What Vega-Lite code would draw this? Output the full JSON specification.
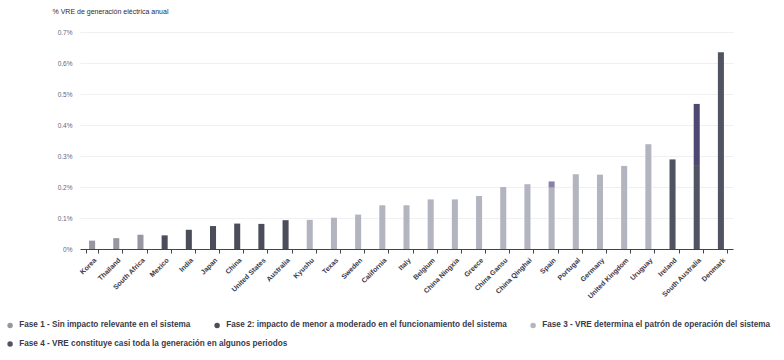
{
  "$schema": "https://vega.github.io/schema/vega-lite/v6.json",
  "width": 653,
  "height": 217,
  "autosize": "none",
  "padding": {"left": 80, "top": 32, "right": 51, "bottom": 111},
  "background": "white",
  "config": {
    "view": {"stroke": null},
    "font": "Liberation Sans",
    "legend": {
      "title": null,
      "orient": "none",
      "direction": "horizontal",
      "columnPadding": 22,
      "symbolType": "circle",
      "symbolSize": 30,
      "symbolStrokeWidth": 0,
      "labelFontSize": 8.2,
      "labelFontWeight": "bold",
      "labelColor": "#3a3a4a",
      "labelLimit": 0,
      "labelOffset": 5
    }
  },
  "datasets": {
    "bars": [
      {"region": "Korea", "phase": "Fase 1 - Sin impacto relevante en el sistema", "value": 0.027},
      {"region": "Thailand", "phase": "Fase 1 - Sin impacto relevante en el sistema", "value": 0.035},
      {"region": "South Africa", "phase": "Fase 1 - Sin impacto relevante en el sistema", "value": 0.046},
      {"region": "Mexico", "phase": "Fase 2: impacto de menor a moderado en el funcionamiento del sistema", "value": 0.044},
      {"region": "India", "phase": "Fase 2: impacto de menor a moderado en el funcionamiento del sistema", "value": 0.062},
      {"region": "Japan", "phase": "Fase 2: impacto de menor a moderado en el funcionamiento del sistema", "value": 0.074},
      {"region": "China", "phase": "Fase 2: impacto de menor a moderado en el funcionamiento del sistema", "value": 0.082},
      {"region": "United States", "phase": "Fase 2: impacto de menor a moderado en el funcionamiento del sistema", "value": 0.081},
      {"region": "Australia", "phase": "Fase 2: impacto de menor a moderado en el funcionamiento del sistema", "value": 0.093},
      {"region": "Kyushu", "phase": "Fase 3 - VRE determina el patrón de operación del sistema", "value": 0.094},
      {"region": "Texas", "phase": "Fase 3 - VRE determina el patrón de operación del sistema", "value": 0.101},
      {"region": "Sweden", "phase": "Fase 3 - VRE determina el patrón de operación del sistema", "value": 0.111},
      {"region": "California", "phase": "Fase 3 - VRE determina el patrón de operación del sistema", "value": 0.141},
      {"region": "Italy", "phase": "Fase 3 - VRE determina el patrón de operación del sistema", "value": 0.141},
      {"region": "Belgium", "phase": "Fase 3 - VRE determina el patrón de operación del sistema", "value": 0.160},
      {"region": "China Ningxia", "phase": "Fase 3 - VRE determina el patrón de operación del sistema", "value": 0.160},
      {"region": "Greece", "phase": "Fase 3 - VRE determina el patrón de operación del sistema", "value": 0.171},
      {"region": "China Gansu", "phase": "Fase 3 - VRE determina el patrón de operación del sistema", "value": 0.200},
      {"region": "China Qinghai", "phase": "Fase 3 - VRE determina el patrón de operación del sistema", "value": 0.209},
      {"region": "Spain", "phase": "Fase 3 - VRE determina el patrón de operación del sistema", "value": 0.198},
      {"region": "Portugal", "phase": "Fase 3 - VRE determina el patrón de operación del sistema", "value": 0.241},
      {"region": "Germany", "phase": "Fase 3 - VRE determina el patrón de operación del sistema", "value": 0.240},
      {"region": "United Kingdom", "phase": "Fase 3 - VRE determina el patrón de operación del sistema", "value": 0.268},
      {"region": "Uruguay", "phase": "Fase 3 - VRE determina el patrón de operación del sistema", "value": 0.338},
      {"region": "Ireland", "phase": "Fase 4 - VRE constituye casi toda la generación en algunos periodos", "value": 0.289},
      {"region": "South Australia", "phase": "Fase 4 - VRE constituye casi toda la generación en algunos periodos", "value": 0.268},
      {"region": "Denmark", "phase": "Fase 4 - VRE constituye casi toda la generación en algunos periodos", "value": 0.635}
    ],
    "caps": [
      {"region": "Spain", "value": 0.198, "high": 0.218},
      {"region": "South Australia", "value": 0.268, "high": 0.468}
    ]
  },
  "encoding": {
    "x": {
      "field": "region",
      "type": "nominal",
      "sort": null,
      "scale": {"paddingInner": 0.5, "paddingOuter": 0.25},
      "axis": {
        "title": null,
        "labelAngle": -45,
        "labelFontSize": 7,
        "labelFontWeight": "bold",
        "labelColor": "#3a3a4a",
        "labelPadding": 3,
        "domainColor": "#444",
        "domainWidth": 1,
        "tickColor": "#444",
        "tickSize": 4,
        "tickBand": "extent",
        "labelLimit": 0
      }
    },
    "y": {
      "field": "value",
      "type": "quantitative",
      "scale": {"domain": [0, 0.7], "nice": false},
      "axis": {
        "title": "% VRE de generación eléctrica anual",
        "titleAngle": 0,
        "titleAlign": "left",
        "titleBaseline": "alphabetic",
        "titleX": -28,
        "titleY": -19,
        "titleFontSize": 7,
        "titleFontWeight": "normal",
        "titleColor": "#2a2a3a",
        "values": [0, 0.1, 0.2, 0.3, 0.4, 0.5, 0.6, 0.7],
        "labelOverlap": false,
        "labelFlush": false,
        "labelExpr": "datum.value == 0 ? '0%' : format(datum.value, '.1f') + '%'",
        "labelFontSize": 6.5,
        "labelColor": "#666677",
        "labelPadding": 8,
        "domain": false,
        "ticks": false,
        "grid": true,
        "gridColor": "#f0f0f3",
        "gridWidth": 1
      }
    }
  },
  "layer": [
    {
      "data": {"name": "bars"},
      "transform": [{"filter": "indexof(datum.phase, 'Fase 4') < 0"}],
      "mark": {"type": "bar", "width": {"band": 0.5}},
      "encoding": {
        "color": {
          "field": "phase",
          "type": "nominal",
          "scale": {
            "domain": [
              "Fase 1 - Sin impacto relevante en el sistema",
              "Fase 2: impacto de menor a moderado en el funcionamiento del sistema",
              "Fase 3 - VRE determina el patrón de operación del sistema"
            ],
            "range": ["#9797a2", "#4b4d5a", "#b2b4c0"]
          },
          "legend": {"legendX": -74, "legendY": 289}
        }
      }
    },
    {
      "data": {"name": "bars"},
      "transform": [{"filter": "indexof(datum.phase, 'Fase 4') >= 0"}],
      "mark": {"type": "bar", "width": {"band": 0.5}},
      "encoding": {
        "color": {
          "field": "phase",
          "type": "nominal",
          "scale": {
            "domain": ["Fase 4 - VRE constituye casi toda la generación en algunos periodos"],
            "range": ["#505462"]
          },
          "legend": {"legendX": -74, "legendY": 308}
        }
      }
    },
    {
      "data": {"name": "caps"},
      "mark": {"type": "bar", "width": {"band": 0.5}},
      "encoding": {
        "y2": {"field": "high"},
        "color": {
          "field": "region",
          "type": "nominal",
          "scale": {"domain": ["Spain", "South Australia"], "range": ["#8b80a6", "#4e4870"]},
          "legend": null
        }
      }
    }
  ],
  "resolve": {"scale": {"color": "independent"}}
}
